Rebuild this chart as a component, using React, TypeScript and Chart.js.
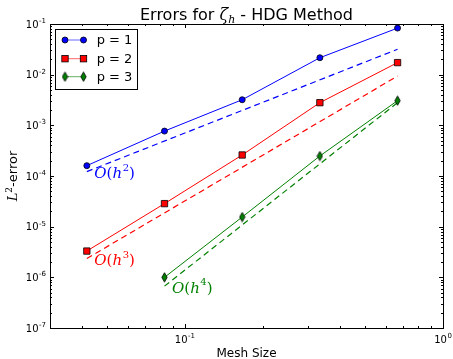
import React, { useEffect, useRef } from "react";
import { Chart, registerables } from "chart.js";
Chart.register(...registerables);

// ---- data ----
const meshSizes = [0.04167, 0.08333, 0.16667, 0.33333, 0.66667];
const errP1 = [1.6e-4, 7.7e-4, 3.2e-3, 2.16e-2, 8.3e-2];
const errP2 = [3.3e-6, 2.85e-5, 2.6e-4, 2.8e-3, 1.73e-2];
const meshSizesP3 = [0.08333, 0.16667, 0.33333, 0.66667];
const errP3 = [1.0e-6, 1.55e-5, 2.48e-4, 3.07e-3];

const refH2X = [0.04167, 0.66667];
const refH2 = [1.22e-4, 3.17e-2];
const refH3X = [0.04167, 0.66667];
const refH3 = [2.35e-6, 9.4e-3];
const refH4X = [0.08333, 0.66667];
const refH4 = [6.7e-7, 2.8e-3];

const seriesLabels = ["p = 1", "p = 2", "p = 3"];
const refOrders = ["2", "3", "4"];
const xTickExps = [-1, 0];
const yTickExps = [-7, -6, -5, -4, -3, -2, -1];
const xRange = [0.03, 1];
const yRange = [1e-7, 1e-1];

const BLUE = "#0000ff";
const RED = "#ff0000";
const GREEN = "#008000";
const SANS = '"DejaVu Sans", sans-serif';
const SERIF = '"DejaVu Serif", serif';

function pts(xs: number[], ys: number[]) {
  return xs.map((x, i) => ({ x, y: ys[i] }));
}

function makeDiamond(): HTMLCanvasElement {
  const c = document.createElement("canvas");
  c.width = 7;
  c.height = 11;
  const g = c.getContext("2d")!;
  g.beginPath();
  g.moveTo(3.5, 0.8);
  g.lineTo(6.2, 5.5);
  g.lineTo(3.5, 10.2);
  g.lineTo(0.8, 5.5);
  g.closePath();
  g.fillStyle = GREEN;
  g.fill();
  g.lineWidth = 0.8;
  g.strokeStyle = "#000";
  g.stroke();
  return c;
}

function drawPow(ctx: CanvasRenderingContext2D, exp: number, x: number, baseY: number, align: "right" | "center") {
  const baseFont = `10px ${SANS}`;
  const supFont = `7px ${SANS}`;
  const supText = exp < 0 ? "-" + Math.abs(exp) : String(exp);
  ctx.font = baseFont;
  const wb = ctx.measureText("10").width;
  ctx.font = supFont;
  const ws = ctx.measureText(supText).width;
  const total = wb + ws + 0.5;
  let left = align === "right" ? x - total : x - total / 2;
  ctx.textAlign = "left";
  ctx.textBaseline = "alphabetic";
  ctx.fillStyle = "#000";
  ctx.font = baseFont;
  ctx.fillText("10", left, baseY);
  ctx.font = supFont;
  ctx.fillText(supText, left + wb + 0.5, baseY - 4.5);
}

const decorPlugin = {
  id: "decor",
  afterDraw(chart: any) {
    const ctx: CanvasRenderingContext2D = chart.ctx;
    const xs = chart.scales.x;
    const ys = chart.scales.y;
    const a = chart.chartArea;
    ctx.save();

    // frame
    ctx.strokeStyle = "#000";
    ctx.lineWidth = 1;
    ctx.strokeRect(Math.round(a.left) + 0.5, Math.round(a.top) + 0.5, Math.round(a.right - a.left), Math.round(a.bottom - a.top));

    // ticks
    ctx.beginPath();
    const yT = (v: number, len: number) => {
      const py = Math.round(ys.getPixelForValue(v)) + 0.5;
      ctx.moveTo(a.left, py); ctx.lineTo(a.left + len, py);
      ctx.moveTo(a.right, py); ctx.lineTo(a.right - len, py);
    };
    const xT = (v: number, len: number) => {
      const px = Math.round(xs.getPixelForValue(v)) + 0.5;
      ctx.moveTo(px, a.bottom); ctx.lineTo(px, a.bottom - len);
      ctx.moveTo(px, a.top); ctx.lineTo(px, a.top + len);
    };
    for (const e of yTickExps) {
      yT(Math.pow(10, e), 4);
      if (e < -1) for (let m = 2; m <= 9; m++) yT(m * Math.pow(10, e), 2);
    }
    for (const e of [-2, -1]) {
      for (let m = 2; m <= 9; m++) {
        const v = m * Math.pow(10, e);
        if (v >= xRange[0] - 1e-9 && v <= xRange[1]) xT(v, 2);
      }
    }
    for (const e of xTickExps) xT(Math.pow(10, e), 4);
    ctx.stroke();

    // tick labels
    for (const e of yTickExps) {
      const py = ys.getPixelForValue(Math.pow(10, e));
      drawPow(ctx, e, a.left - 4, py + 3.6, "right");
    }
    for (const e of xTickExps) {
      const px = xs.getPixelForValue(Math.pow(10, e));
      drawPow(ctx, e, px, a.bottom + 14.5, "center");
    }

    // title
    const cx = (a.left + a.right) / 2;
    const parts: [string, string, number][] = [
      ["Errors for ", `16px ${SANS}`, 0],
      ["ζ", `italic 16px ${SERIF}`, 0],
      ["h", `italic 11px ${SERIF}`, 3],
      [" - HDG Method", `16px ${SANS}`, 0],
    ];
    let tw = 0;
    for (const p of parts) { ctx.font = p[1]; tw += ctx.measureText(p[0]).width; }
    let tx = cx - tw / 2;
    ctx.textAlign = "left";
    ctx.textBaseline = "alphabetic";
    ctx.fillStyle = "#000";
    for (const p of parts) {
      ctx.font = p[1];
      ctx.fillText(p[0], tx, 20 + p[2]);
      tx += ctx.measureText(p[0]).width;
    }

    // x label
    ctx.font = `12px ${SANS}`;
    ctx.textAlign = "center";
    ctx.fillText("Mesh Size", cx, 357);

    // y label
    ctx.save();
    ctx.translate(17, (a.top + a.bottom) / 2);
    ctx.rotate(-Math.PI / 2);
    const yparts: [string, string, number][] = [
      ["L", `italic 13px ${SERIF}`, 0],
      ["2", `9px ${SERIF}`, -5],
      ["-error", `13px ${SANS}`, 0],
    ];
    let yw = 0;
    for (const p of yparts) { ctx.font = p[1]; yw += ctx.measureText(p[0]).width; }
    let yx = -yw / 2;
    ctx.textAlign = "left";
    for (const p of yparts) {
      ctx.font = p[1];
      ctx.fillText(p[0], yx, p[2]);
      yx += ctx.measureText(p[0]).width;
    }
    ctx.restore();

    // order annotations
    const refs: [number, number, string, string][] = [
      [refH2X[0], refH2[0], refOrders[0], BLUE],
      [refH3X[0], refH3[0], refOrders[1], RED],
      [refH4X[0], refH4[0], refOrders[2], GREEN],
    ];
    for (const [rx, ry, ord, col] of refs) {
      const px = xs.getPixelForValue(rx) + 7.5;
      const py = ys.getPixelForValue(ry) + 2.5;
      const ap: [string, string, number][] = [
        ["O", `italic 15px ${SERIF}`, 0],
        ["(", `15px ${SERIF}`, 0],
        ["h", `italic 15px ${SERIF}`, 0],
        [ord, `10px ${SERIF}`, -6],
        [")", `15px ${SERIF}`, 0],
      ];
      let ax = px;
      ctx.fillStyle = col;
      ctx.textAlign = "left";
      ctx.textBaseline = "middle";
      for (const p of ap) {
        ctx.font = p[1];
        ctx.fillText(p[0], ax, py + p[2]);
        ax += ctx.measureText(p[0]).width + (p[0] === "h" ? 0.5 : 0);
      }
    }

    // legend
    const lx = 55.5, ly = 29.5, lw = 82, lh = 60;
    ctx.fillStyle = "#fff";
    ctx.fillRect(lx, ly, lw, lh);
    ctx.strokeStyle = "#000";
    ctx.lineWidth = 1;
    ctx.strokeRect(lx, ly, lw, lh);
    const rows = [40, 58.7, 76.7];
    const cols = [BLUE, RED, GREEN];
    const diamond = chart.data.datasets[2].pointStyle;
    rows.forEach((ry, i) => {
      const x1 = 65, x2 = 83.5;
      ctx.strokeStyle = cols[i];
      ctx.globalAlpha = 0.6;
      ctx.lineWidth = 1;
      ctx.beginPath(); ctx.moveTo(x1, ry); ctx.lineTo(x2, ry); ctx.stroke();
      ctx.globalAlpha = 1;
      for (const mx of [x1, x2]) {
        if (i === 0) {
          ctx.beginPath(); ctx.arc(mx, ry, 3, 0, Math.PI * 2);
          ctx.fillStyle = BLUE; ctx.fill(); ctx.strokeStyle = "#000"; ctx.lineWidth = 0.8; ctx.stroke();
        } else if (i === 1) {
          ctx.fillStyle = RED; ctx.fillRect(mx - 3.2, ry - 3.2, 6.4, 6.4);
          ctx.strokeStyle = "#000"; ctx.lineWidth = 0.8; ctx.strokeRect(mx - 3.2, ry - 3.2, 6.4, 6.4);
        } else {
          ctx.drawImage(diamond, mx - diamond.width / 2, ry - diamond.height / 2);
        }
      }
      ctx.fillStyle = "#000";
      ctx.font = `13px ${SANS}`;
      ctx.textAlign = "left";
      ctx.textBaseline = "middle";
      ctx.fillText(seriesLabels[i], 96.7, ry + 0.5);
    });

    ctx.restore();
  },
};

export default function App() {
  const ref = useRef<HTMLCanvasElement>(null);
  useEffect(() => {
    const diamond = makeDiamond();
    const chart = new Chart(ref.current!, {
      type: "scatter",
      data: {
        datasets: [
          {
            label: seriesLabels[0], data: pts(meshSizes, errP1), showLine: true,
            borderColor: BLUE, borderWidth: 1, pointStyle: "circle", pointRadius: 3,
            pointBackgroundColor: BLUE, pointBorderColor: "#000", pointBorderWidth: 0.8,
          },
          {
            label: seriesLabels[1], data: pts(meshSizes, errP2), showLine: true,
            borderColor: RED, borderWidth: 1, pointStyle: "rect", pointRadius: 4.5,
            pointBackgroundColor: RED, pointBorderColor: "#000", pointBorderWidth: 0.8,
          },
          {
            label: seriesLabels[2], data: pts(meshSizesP3, errP3), showLine: true,
            borderColor: GREEN, borderWidth: 1, pointStyle: diamond as any, pointRadius: 5,
            pointBackgroundColor: GREEN, pointBorderColor: "#000",
          },
          {
            label: "O(h2)", data: pts(refH2X, refH2), showLine: true, borderColor: BLUE,
            borderWidth: 1.2, borderDash: [6, 4], pointRadius: 0,
          },
          {
            label: "O(h3)", data: pts(refH3X, refH3), showLine: true, borderColor: RED,
            borderWidth: 1.2, borderDash: [6, 4], pointRadius: 0,
          },
          {
            label: "O(h4)", data: pts(refH4X, refH4), showLine: true, borderColor: GREEN,
            borderWidth: 1.2, borderDash: [6, 4], pointRadius: 0,
          },
        ] as any,
      },
      options: {
        animation: false,
        responsive: false,
        devicePixelRatio: 1,
        layout: { padding: { left: 50, top: 24, right: 10, bottom: 31 } },
        plugins: { legend: { display: false }, tooltip: { enabled: false }, title: { display: false } },
        scales: {
          x: { type: "logarithmic", min: xRange[0], max: xRange[1], display: false },
          y: { type: "logarithmic", min: yRange[0], max: yRange[1], display: false },
        },
      } as any,
      plugins: [decorPlugin],
    });
    return () => chart.destroy();
  }, []);
  return (
    <div style={{ position: "fixed", left: 0, top: 0, width: 453, height: 359, background: "#fff" }}>
      <canvas ref={ref} width={453} height={359} />
    </div>
  );
}
